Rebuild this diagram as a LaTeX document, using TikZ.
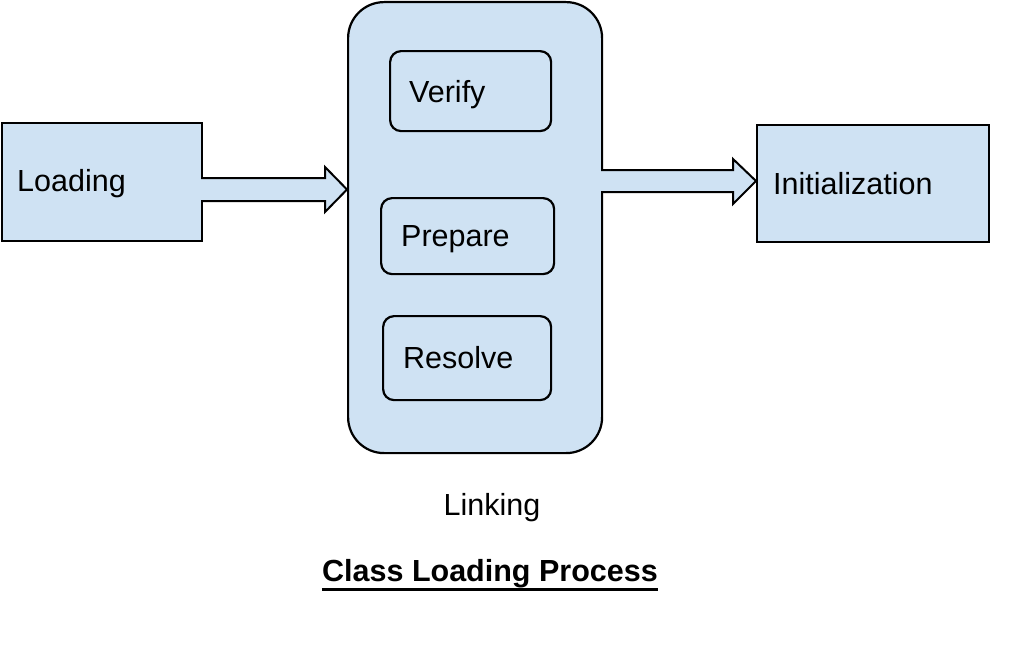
\documentclass[tikz,border=0pt]{standalone}
\usepackage{fontspec}
\setmainfont{Liberation Sans}
\definecolor{boxfill}{HTML}{CFE2F3}
\begin{document}
\begin{tikzpicture}[x=1pt,y=-1pt,
  box/.style={draw=black, fill=boxfill, line width=2.2pt, inner sep=0pt, anchor=north west},
  rbox/.style={box, rounded corners=11pt},
  lbl/.style={font=\fontsize{30.5}{36}\selectfont, inner sep=0pt, anchor=base west},
  blockarrow/.style={draw=black, fill=boxfill, line width=2pt, line join=miter}]
\useasboundingbox (0,0) rectangle (1025,653);
\fill[white] (0,0) rectangle (1025,653);
% outer boxes
\node[box, minimum width=200pt, minimum height=118pt] (load) at (1,122) {};
\node[box, rounded corners=36pt, minimum width=254pt, minimum height=451pt] (link) at (347,1) {};
\node[box, minimum width=232pt, minimum height=117pt] (init) at (756,124) {};
% inner boxes
\node[rbox, minimum width=161pt, minimum height=80pt] (verify) at (389,50) {};
\node[rbox, minimum width=173pt, minimum height=76pt] (prepare) at (380,197) {};
\node[rbox, minimum width=168pt, minimum height=84pt] (resolve) at (382,315) {};
% block arrows
\coordinate (a1s) at (201,178);
\filldraw[blockarrow] (a1s) -- (325,178) -- (325,167) -- (347,189.5) -- (325,212) -- (325,201) -- (201,201);
\coordinate (a2s) at (601,170);
\filldraw[blockarrow] (a2s) -- (733,170) -- (733,159) -- (756,181) -- (733,204) -- (733,192) -- (601,192);
% labels
\node[lbl] (tload) at (17,191) {Loading};
\node[lbl] (tverify) at (409,102) {Verify};
\node[lbl] (tprep) at (401,246) {Prepare};
\node[lbl] (tres) at (403,368) {Resolve};
\node[lbl] (tinit) at (773,194) {Initialization};
\node[lbl, anchor=base] (tlink) at (492,515) {Linking};
\node[lbl, anchor=base, font=\fontsize{30.5}{36}\selectfont\bfseries] (title) at (490,581) {Class Loading Process};
\draw[line width=3pt] ([yshift=-8pt]title.base west) -- ([yshift=-8pt]title.base east);
\end{tikzpicture}
\end{document}
